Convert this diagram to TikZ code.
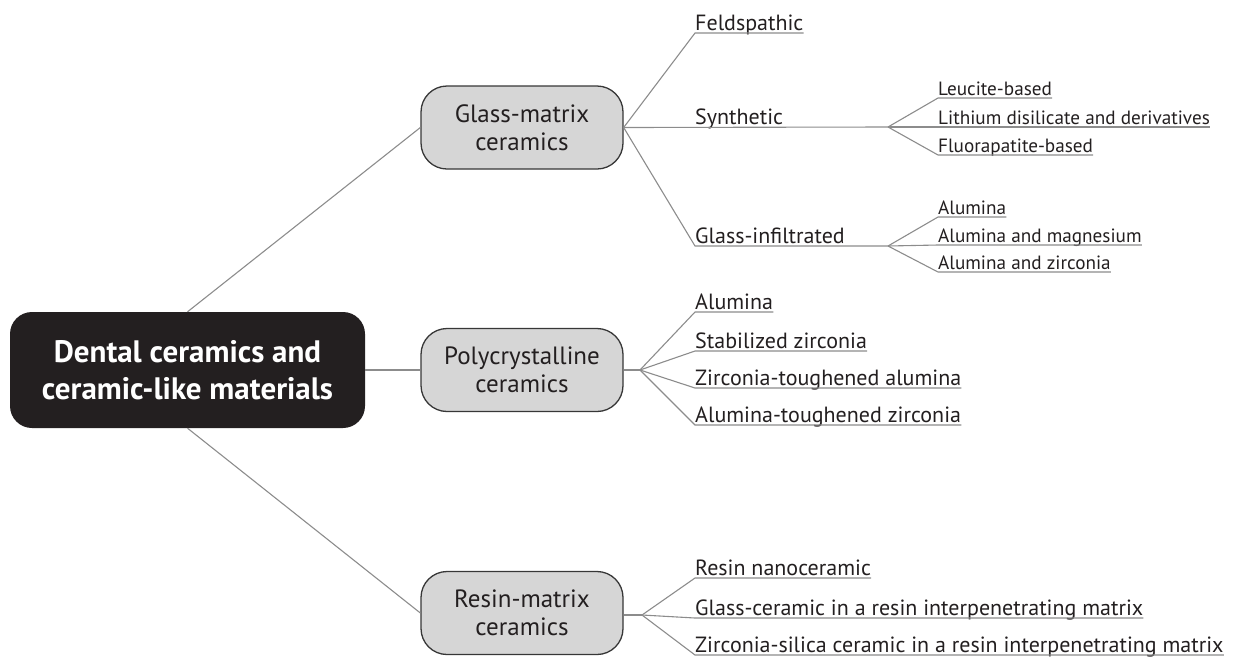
\documentclass[tikz,border=0pt]{standalone}
\usepackage{fontspec}
\setmainfont{PT Sans}
\definecolor{linecol}{RGB}{140,140,140}
\definecolor{boxfill}{RGB}{214,214,214}
\definecolor{boxline}{RGB}{55,55,55}
\definecolor{txt}{RGB}{35,31,32}
\definecolor{rootfill}{RGB}{35,31,32}
\begin{document}
\begin{tikzpicture}[x=1pt,y=-1pt,
 conn/.style={draw=linecol, line width=1.1pt},
 cat/.style={draw=boxline, line width=1.3pt, fill=boxfill, rounded corners=26pt, minimum width=202pt, minimum height=83pt, align=center, font=\fontsize{25}{28}\selectfont, text=txt},
 rootbox/.style={fill=rootfill, rounded corners=22pt, minimum width=355pt, minimum height=116pt, align=center, text=white, font=\fontsize{31}{37}\selectfont\bfseries},
 lvtwo/.style={anchor=base west, inner sep=0pt, text=txt, font=\fontsize{22}{24}\selectfont},
 lvthree/.style={anchor=base west, inner sep=0pt, text=txt, font=\fontsize{19.2}{20}\selectfont},
]
\useasboundingbox (0,0) rectangle (1238,657);

% main nodes
\node[rootbox] (root) at (187.5,370) {Dental ceramics and\\ceramic-like materials};
\node[cat] (glass) at (522,127.5) {Glass-matrix\\ceramics};
\node[cat] (poly) at (522,370) {Polycrystalline\\ceramics};
\node[cat] (resin) at (522,613) {Resin-matrix\\ceramics};

\draw[conn] (root.north) -- (glass.west);
\draw[conn] (root.east) -- (poly.west);
\draw[conn] (root.south) -- (resin.west);

% glass-matrix branch
\coordinate (f1) at (888,127);
\coordinate (f2) at (888,246);
\node[lvtwo] (feld) at (695,30.5) {Feldspathic};
\node[lvtwo] (syn) at (695,124.5) {Synthetic};
\node[lvtwo] (inf) at (695,243.5) {Glass-infiltrated};
\draw[conn] (glass.east) -- ([yshift=-2.5pt]feld.base west) -- ([yshift=-2.5pt]feld.base east);
\draw[conn] (glass.east) -- (f1);
\draw[conn] (glass.east) -- ([yshift=-2.5pt]inf.base west) -- (f2);

\node[lvthree] (leu) at (938,95.5) {Leucite-based};
\node[lvthree] (lith) at (938,124.5) {Lithium disilicate and derivatives};
\node[lvthree] (fluo) at (938,152.5) {Fluorapatite-based};
\node[lvthree] (alu) at (938,214.5) {Alumina};
\node[lvthree] (alumag) at (938,242.5) {Alumina and magnesium};
\node[lvthree] (aluzir) at (938,269.5) {Alumina and zirconia};
\foreach \n in {leu,lith,fluo}
  \draw[conn] (f1) -- ([yshift=-2.5pt]\n.base west) -- ([yshift=-2.5pt]\n.base east);
\foreach \n in {alu,alumag,aluzir}
  \draw[conn] (f2) -- ([yshift=-2.5pt]\n.base west) -- ([yshift=-2.5pt]\n.base east);

% polycrystalline branch
\coordinate (fp) at (640,370);
\node[lvtwo] (palu) at (695,309.5) {Alumina};
\node[lvtwo] (pzir) at (695,348.5) {Stabilized zirconia};
\node[lvtwo] (pzta) at (695,385.5) {Zirconia-toughened alumina};
\node[lvtwo] (patz) at (695,422.5) {Alumina-toughened zirconia};
\draw[conn] (poly.east) -- (fp);
\foreach \n in {palu,pzir,pzta,patz}
  \draw[conn] (fp) -- ([yshift=-2.5pt]\n.base west) -- ([yshift=-2.5pt]\n.base east);

% resin branch
\coordinate (fr) at (642,615);
\node[lvtwo] (rnano) at (695,575.5) {Resin nanoceramic};
\node[lvtwo] (rglass) at (695,615.5) {Glass-ceramic in a resin interpenetrating matrix};
\node[lvtwo] (rzirc) at (695,652.5) {Zirconia-silica ceramic in a resin interpenetrating matrix};
\draw[conn] (resin.east |- fr) -- (fr);
\foreach \n in {rnano,rglass,rzirc}
  \draw[conn] (fr) -- ([yshift=-2.5pt]\n.base west) -- ([yshift=-2.5pt]\n.base east);
\end{tikzpicture}
\end{document}
